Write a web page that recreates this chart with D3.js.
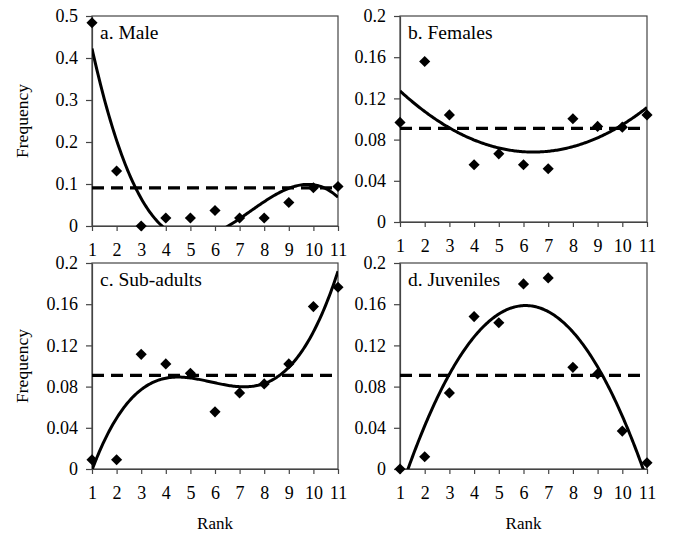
<!DOCTYPE html>
<html>
<head>
<meta charset="utf-8">
<script src="https://cdn.jsdelivr.net/npm/d3@7"></script>
<style>
  body { margin: 0; background: #fff; }
  svg { display: block; }
  text { font-family: "Liberation Serif", "Times New Roman", serif; fill: #000; }
</style>
</head>
<body>
<svg id="chart" width="685" height="549"></svg>
<script>
// ---- Data ----
const ranks = [1, 2, 3, 4, 5, 6, 7, 8, 9, 10, 11];
const maleFreq = [0.484, 0.131, 0.0, 0.019, 0.019, 0.037, 0.019, 0.019, 0.056, 0.091, 0.094];
const femaleFreq = [0.0967, 0.1558, 0.104, 0.0556, 0.0662, 0.0556, 0.0517, 0.1002, 0.0928, 0.0921, 0.104];
const subadultFreq = [0.009, 0.009, 0.1113, 0.102, 0.0929, 0.0555, 0.0739, 0.0826, 0.102, 0.1577, 0.1765];
const juvenileFreq = [0.0, 0.0119, 0.0739, 0.148, 0.142, 0.1797, 0.1855, 0.0987, 0.0923, 0.0368, 0.0061];
const expectedFreq = 1 / 11;
const yTicksA = [0, 0.1, 0.2, 0.3, 0.4, 0.5];
const yTicksB = [0, 0.04, 0.08, 0.12, 0.16, 0.2];
const titles = ["a. Male", "b. Females", "c. Sub-adults", "d. Juveniles"];
const trendDegrees = [3, 2, 3, 2];

const panels = [
  { title: titles[0], values: maleFreq, ymax: 0.5, ticks: yTicksA, deg: trendDegrees[0],
    box: { l: 92, r: 338, t: 16, b: 226 }, yLabel: true, xLabel: false },
  { title: titles[1], values: femaleFreq, ymax: 0.2, ticks: yTicksB, deg: trendDegrees[1],
    box: { l: 400, r: 647, t: 16, b: 222 }, yLabel: false, xLabel: false },
  { title: titles[2], values: subadultFreq, ymax: 0.2, ticks: yTicksB, deg: trendDegrees[2],
    box: { l: 92, r: 338, t: 263, b: 469 }, yLabel: true, xLabel: true },
  { title: titles[3], values: juvenileFreq, ymax: 0.2, ticks: yTicksB, deg: trendDegrees[3],
    box: { l: 400, r: 647, t: 263, b: 469 }, yLabel: false, xLabel: true }
];

// least squares polynomial trendline (as a spreadsheet trendline would)
function polyfit(xs, ys, deg) {
  const n = deg + 1;
  const A = Array.from({ length: n }, () => new Array(n + 1).fill(0));
  for (let k = 0; k < xs.length; k++) {
    for (let i = 0; i < n; i++) {
      for (let j = 0; j < n; j++) A[i][j] += Math.pow(xs[k], i + j);
      A[i][n] += ys[k] * Math.pow(xs[k], i);
    }
  }
  for (let i = 0; i < n; i++) {
    let p = i;
    for (let r = i + 1; r < n; r++) if (Math.abs(A[r][i]) > Math.abs(A[p][i])) p = r;
    [A[i], A[p]] = [A[p], A[i]];
    for (let r = 0; r < n; r++) {
      if (r === i) continue;
      const f = A[r][i] / A[i][i];
      for (let c = i; c <= n; c++) A[r][c] -= f * A[i][c];
    }
  }
  return A.map((row, i) => row[n] / row[i]);
}
const polyval = (c, x) => c.reduce((s, ci, i) => s + ci * Math.pow(x, i), 0);

const svg = d3.select("#chart");
const frameColor = "#444";

panels.forEach((p, idx) => {
  const { l, r, t, b } = p.box;
  const x = d3.scaleLinear().domain([1, 11]).range([l, r]);
  const y = d3.scaleLinear().domain([0, p.ymax]).range([b, t]);
  const g = svg.append("g");

  const clipId = "clip" + idx;
  svg.append("clipPath").attr("id", clipId)
    .append("rect").attr("x", l).attr("y", t).attr("width", r - l).attr("height", b - t);

  // frame
  g.append("rect").attr("x", l).attr("y", t).attr("width", r - l).attr("height", b - t)
    .attr("fill", "none").attr("stroke", frameColor).attr("stroke-width", 1.2);

  // x axis
  const xAxis = d3.axisBottom(x).tickValues(ranks).tickFormat(d3.format("d"))
    .tickSizeInner(5).tickSizeOuter(0).tickPadding(12);
  const gx = g.append("g").attr("transform", `translate(0,${b})`).call(xAxis);
  gx.select(".domain").attr("stroke", frameColor).attr("stroke-width", 1.2);
  gx.selectAll(".tick line").attr("stroke", frameColor).attr("stroke-width", 1.2);
  gx.selectAll("text").attr("font-size", 18).attr("font-family", "Liberation Serif").attr("fill", "#000");

  // y axis
  const yAxis = d3.axisLeft(y).tickValues(p.ticks).tickFormat(d => d === 0 ? "0" : String(+d.toFixed(2)))
    .tickSizeInner(6).tickSizeOuter(0).tickPadding(8);
  const gy = g.append("g").attr("transform", `translate(${l},0)`).call(yAxis);
  gy.select(".domain").attr("stroke", frameColor).attr("stroke-width", 1.2);
  gy.selectAll(".tick line").attr("stroke", frameColor).attr("stroke-width", 1.2);
  gy.selectAll("text").attr("font-size", 18).attr("font-family", "Liberation Serif").attr("fill", "#000");

  // expected frequency dashed line
  g.append("line").attr("x1", x(1)).attr("x2", x(11))
    .attr("y1", y(expectedFreq)).attr("y2", y(expectedFreq))
    .attr("stroke", "#000").attr("stroke-width", 3.2).attr("stroke-dasharray", "12,7");

  // trendline
  const coef = polyfit(ranks, p.values, p.deg);
  const xs = d3.range(0, 201).map(i => 1 + i * 10 / 200);
  const line = d3.line().x(d => x(d)).y(d => y(polyval(coef, d)));
  g.append("path").attr("clip-path", `url(#${clipId})`)
    .attr("d", line(xs)).attr("fill", "none").attr("stroke", "#000").attr("stroke-width", 3);

  // markers (diamonds)
  const diamond = d3.symbol().type(d3.symbolSquare).size(62);
  g.selectAll("path.pt").data(p.values).join("path").attr("class", "pt")
    .attr("d", diamond)
    .attr("transform", (d, i) => `translate(${x(ranks[i])},${y(d)}) rotate(45)`)
    .attr("fill", "#000");

  // panel title
  g.append("text").attr("x", l + 8).attr("y", t + 23).attr("font-size", 19.5).text(p.title);

  if (p.yLabel) {
    g.append("text").attr("transform", `translate(28,${(t + b) / 2}) rotate(-90)`)
      .attr("text-anchor", "middle").attr("font-size", 17.5).text("Frequency");
  }
  if (p.xLabel) {
    g.append("text").attr("x", (l + r) / 2).attr("y", 529)
      .attr("text-anchor", "middle").attr("font-size", 17).text("Rank");
  }
});
</script>
</body>
</html>
